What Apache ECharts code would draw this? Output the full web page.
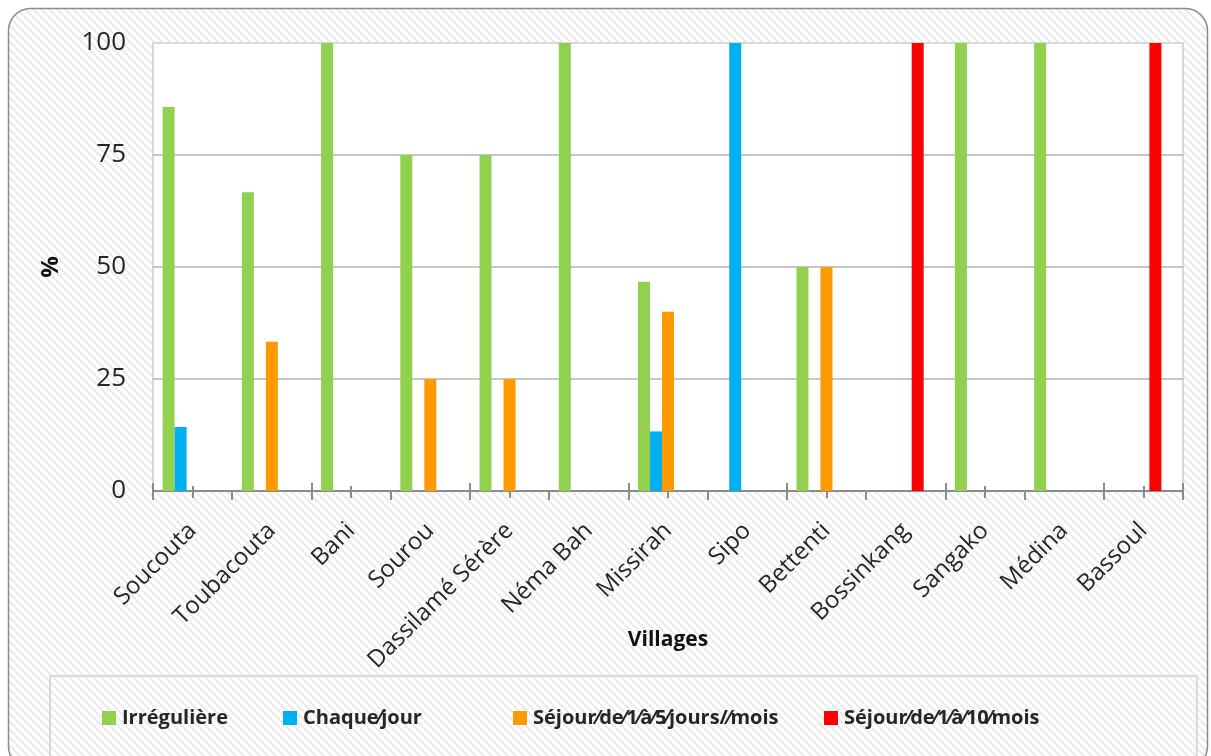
<!DOCTYPE html>
<html>
<head>
<meta charset="utf-8">
<script src="https://cdn.jsdelivr.net/npm/echarts@6/dist/echarts.min.js"></script>
<style>
html,body{margin:0;padding:0;background:#fff;}
#c{width:1211px;height:756px;}
</style>
</head>
<body>
<div id="c"></div>
<script>
const categories = ['Soucouta','Toubacouta','Bani','Sourou','Dassilamé Sérère','Néma Bah','Missirah','Sipo','Bettenti','Bossinkang','Sangako','Médina','Bassoul'];
const seriesNames = ['Irrégulière','Chaque\u2044jour','Séjour\u2044de\u20441\u2044à\u20445\u2044jours/\u2044mois','Séjour\u2044de\u20441\u2044à\u204410\u2044mois'];
const irreguliere = [85.7,66.7,100,75,75,100,46.7,null,50,null,100,100,null];
const chaqueJour  = [14.3,null,null,null,null,null,13.3,100,null,null,null,null,null];
const sejour1a5   = [null,33.3,null,25,25,null,40,null,50,null,null,null,null];
const sejour1a10  = [null,null,null,null,null,null,null,null,null,100,null,null,100];
const emptySeries = [null,null,null,null,null,null,null,null,null,null,null,null,null];
const yTicks = [0,25,50,75,100];
const colors = ['#92D050','#00B0F0','#FF9900','#FF0000'];

// hatch pattern
const tile = document.createElement('canvas');
tile.width = 8; tile.height = 8;
const tc = tile.getContext('2d');
tc.fillStyle = '#ffffff'; tc.fillRect(0,0,8,8);
tc.strokeStyle = '#ececec'; tc.lineWidth = 2.4;
[-8,0,8].forEach(o=>{ tc.beginPath(); tc.moveTo(o,0); tc.lineTo(o+8,8); tc.stroke(); });

const FONT = '"Open Sans", "Liberation Sans", sans-serif';
const gridPos = {left:153, top:43, right:28, bottom:265};

const chart = echarts.init(document.getElementById('c'), null, {renderer:'canvas'});

function tickAxis(gi, inside, len, alignCenter){
  return {
    type:'category', gridIndex:gi, data:categories, position:'bottom',
    axisLine:{show:false}, axisLabel:{show:false}, splitLine:{show:false},
    axisTick:{show:true, inside:inside, length:len, alignWithLabel:alignCenter,
      lineStyle:{color:'#8c8c8c', width:2}}
  };
}
function hiddenY(gi){
  return {type:'value', gridIndex:gi, min:0, max:100, show:false};
}

const barBase = {type:'bar', barWidth:12, barGap:'0%', xAxisIndex:0, yAxisIndex:0};

const option = {
  animation:false,
  backgroundColor:'transparent',
  color: colors,
  graphic:[
    {type:'rect', z:-10, silent:true,
      shape:{x:8.5, y:8.5, width:1199, height:760, r:22},
      style:{fill:{image:tile, repeat:'repeat'}, stroke:'#8a8a8a', lineWidth:1.5}},
    {type:'rect', z:-9, silent:true,
      shape:{x:50, y:676, width:1147, height:120},
      style:{fill:'transparent', stroke:'#d9d9d9', lineWidth:2}}
  ],
  grid:[
    Object.assign({show:true, backgroundColor:'#ffffff', borderColor:'#d9d9d9', borderWidth:2}, gridPos),
    Object.assign({}, gridPos),
    Object.assign({}, gridPos),
    Object.assign({}, gridPos)
  ],
  legend:[
    {data:[seriesNames[0]], left:102, top:708},
    {data:[seriesNames[1]], left:283, top:708},
    {data:[seriesNames[2]], left:513, top:708},
    {data:[seriesNames[3]], left:824, top:708}
  ].map(l=>Object.assign(l,{
    icon:'rect', itemWidth:14, itemHeight:14, itemGap:0, padding:0,
    textStyle:{fontFamily:FONT, fontWeight:'bold', fontSize:20, color:'#262626', padding:[0,0,0,1]}
  })),
  xAxis:[
    {
      type:'category', gridIndex:0, data:categories, position:'bottom',
      name:'Villages', nameLocation:'middle', nameGap:139, nameMoveOverlap:false,
      nameTextStyle:{fontFamily:FONT, fontWeight:'bold', fontSize:21, color:'#111'},
      axisLine:{show:true, lineStyle:{color:'#8c8c8c', width:2}},
      axisTick:{show:true, length:9, lineStyle:{color:'#8c8c8c', width:2}},
      axisLabel:{rotate:45, margin:36, fontFamily:FONT, fontSize:24, color:'#262626', interval:0},
      splitLine:{show:false}
    },
    tickAxis(1, true, 8, false),
    tickAxis(2, false, 7, true),
    tickAxis(3, true, 5, true)
  ],
  yAxis:[
    {
      type:'value', gridIndex:0, min:0, max:100, interval:25,
      name:'%', nameLocation:'middle', nameGap:90, nameRotate:90, nameMoveOverlap:false,
      nameTextStyle:{fontFamily:FONT, fontWeight:'bold', fontSize:24, color:'#111'},
      axisLine:{show:false}, axisTick:{show:false},
      axisLabel:{margin:27, fontFamily:FONT, fontSize:26, color:'#262626',
        formatter:function(v){ return yTicks.indexOf(v)>=0 ? String(v) : ''; }},
      splitLine:{show:true, lineStyle:{color:['#b5b5b5','#b5b5b5','#b5b5b5','#b5b5b5','#d9d9d9'], width:1.5}}
    },
    hiddenY(1), hiddenY(2), hiddenY(3)
  ],
  series:[
    Object.assign({name:seriesNames[0], data:irreguliere}, barBase),
    Object.assign({name:seriesNames[1], data:chaqueJour}, barBase),
    Object.assign({name:seriesNames[2], data:sejour1a5}, barBase),
    Object.assign({name:seriesNames[3], data:sejour1a10}, barBase),
    Object.assign({name:'_vide', data:emptySeries, color:'#ffffff'}, barBase)
  ]
};
chart.setOption(option);
</script>
</body>
</html>
